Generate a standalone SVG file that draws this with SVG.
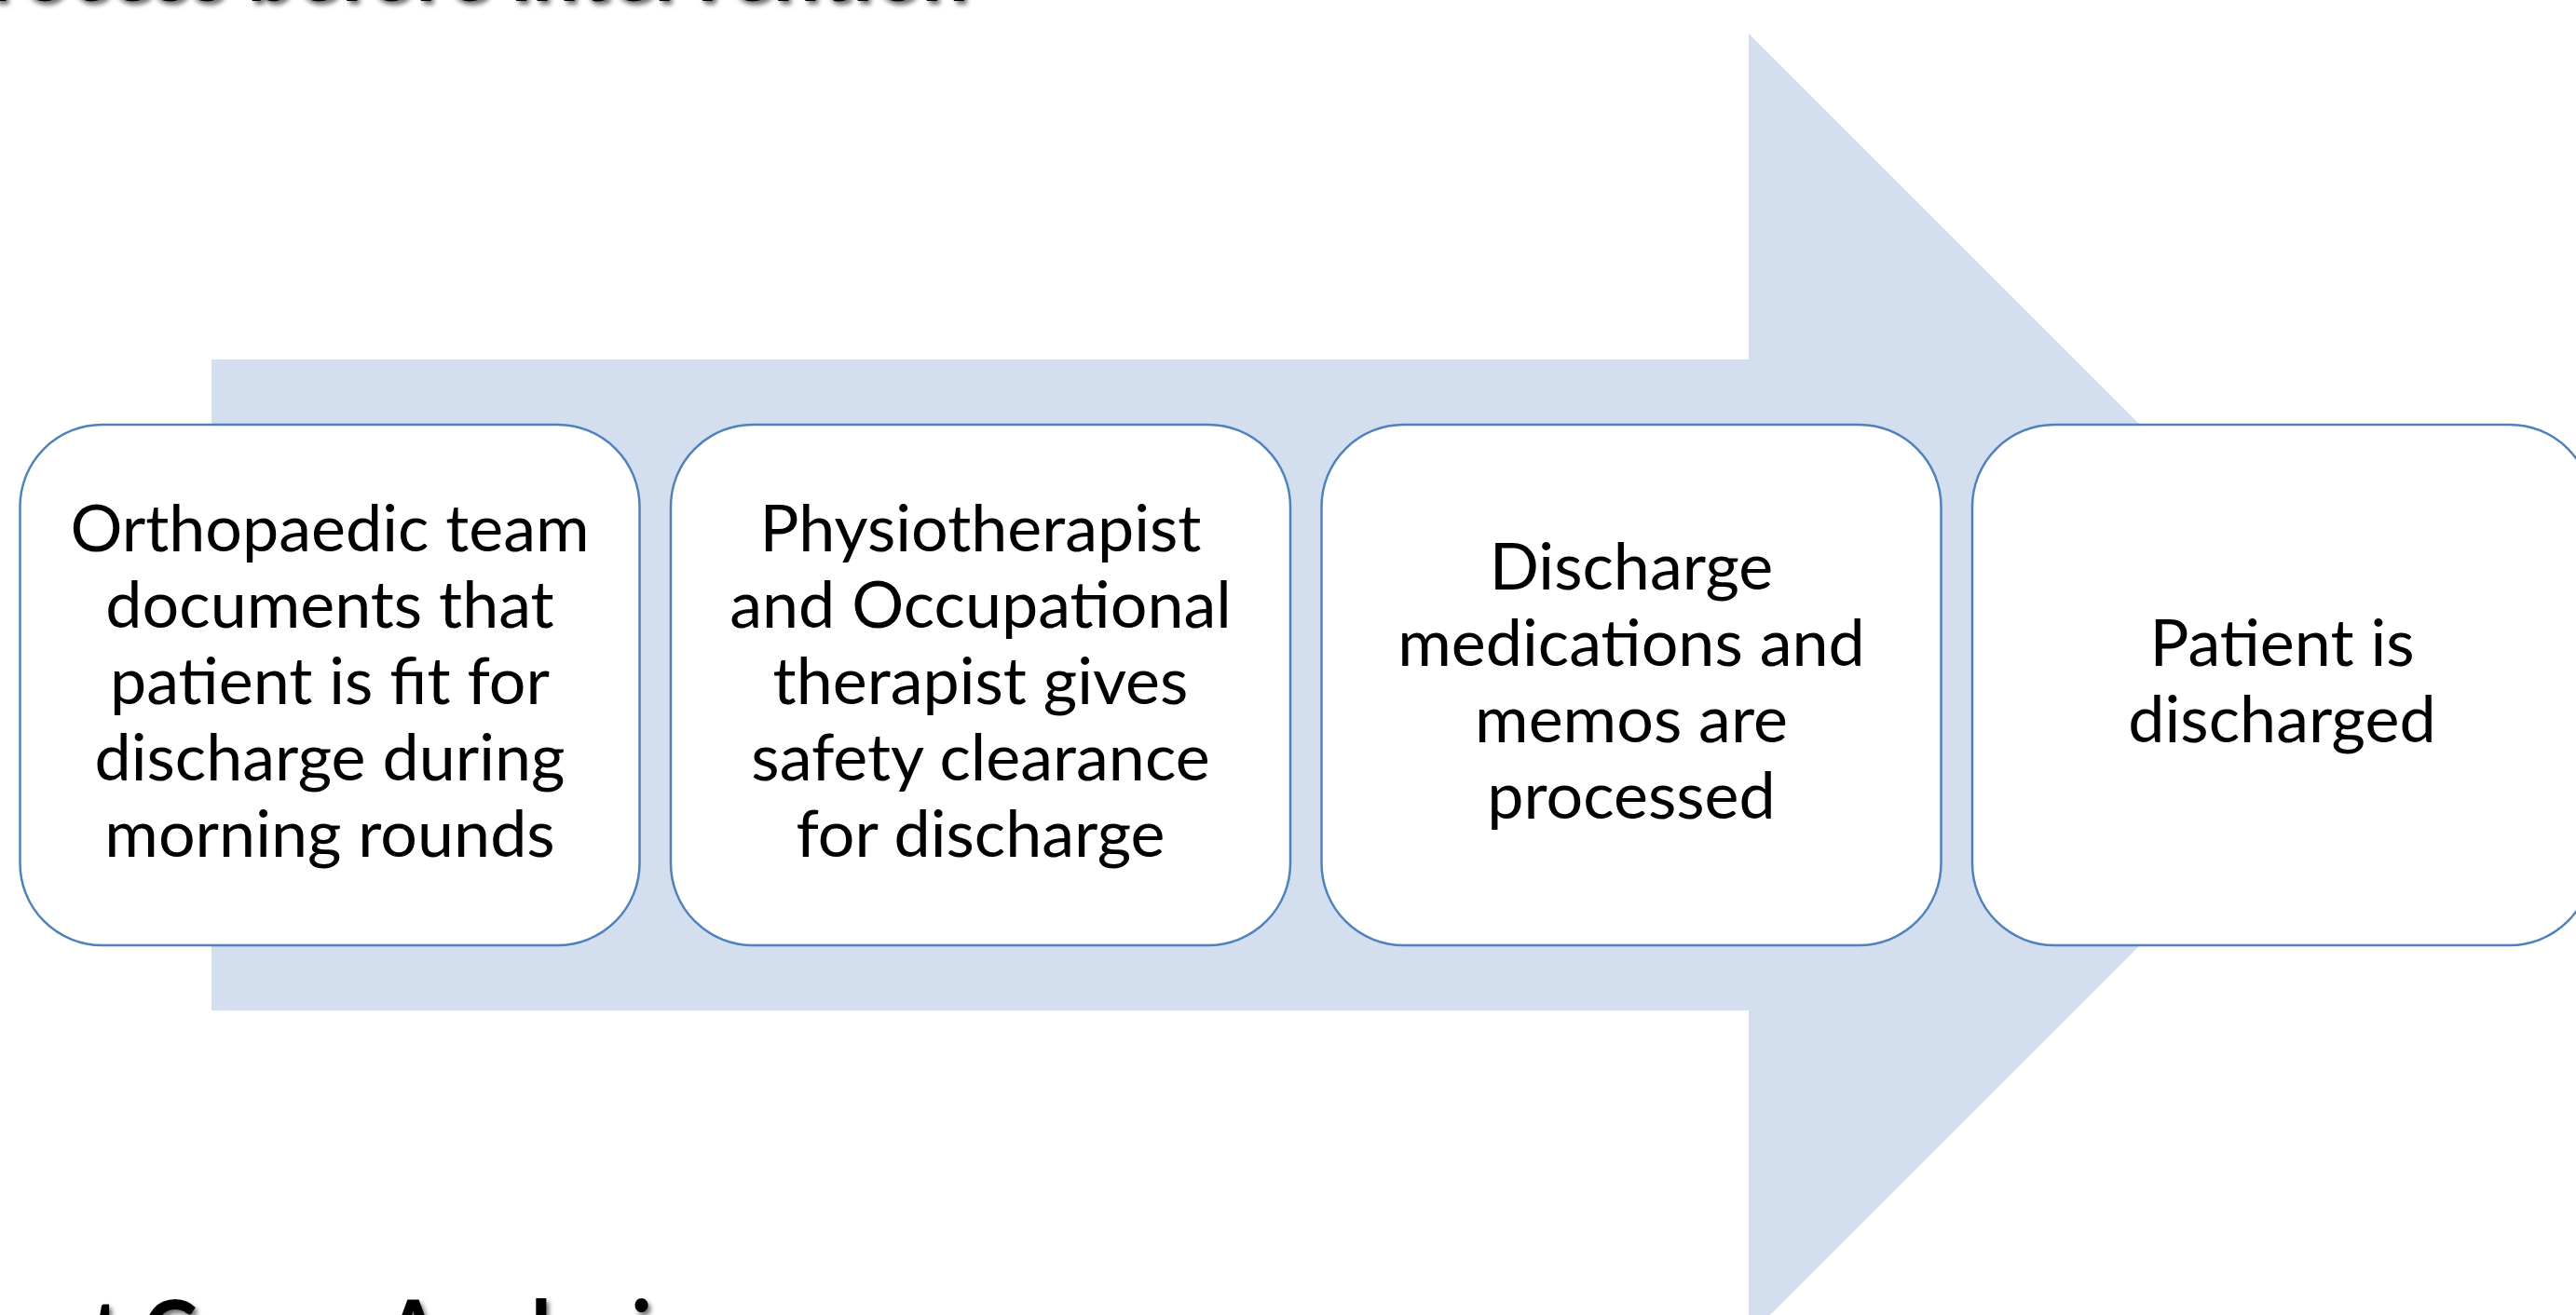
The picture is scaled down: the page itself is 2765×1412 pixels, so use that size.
<svg xmlns="http://www.w3.org/2000/svg" width="2765" height="1412" viewBox="0 0 2765 1412">
<style>
.box{fill:#ffffff;stroke:#4F81BD;stroke-width:2.5}
.lbl{font-family:Lato,"Liberation Sans",sans-serif;font-size:70px;fill:#000000;text-anchor:middle}
.ttl{font-family:Lato,"Liberation Sans",sans-serif;font-size:96px;font-weight:bold;fill:#000000}
</style>
<defs>
<filter id="sh" x="-5%" y="-50%" width="110%" height="200%">
<feDropShadow dx="3" dy="4" stdDeviation="2.5" flood-color="#000000" flood-opacity="0.55"/>
</filter>
</defs>
<rect width="2765" height="1412" fill="#ffffff"/>
<text class="ttl" x="-65" y="1" textLength="1105" lengthAdjust="spacingAndGlyphs" filter="url(#sh)">Process before intervention</text>
<g id="connectors">
<polygon points="227,386 1877,386 1877,36 2576.5,735.5 1877,1435 1877,1085 227,1085" fill="#D3DEEF"/>
</g>
<g id="node1">
<rect class="box" x="21.5" y="456" width="665" height="559" rx="88" ry="88"/>
<text class="lbl" x="354" y="592">Orthopaedic team</text>
<text class="lbl" x="354" y="674">documents that</text>
<text class="lbl" x="354" y="756">patient is fit for</text>
<text class="lbl" x="354" y="838">discharge during</text>
<text class="lbl" x="354" y="920">morning rounds</text>
</g>
<g id="node2">
<rect class="box" x="720" y="456" width="665" height="559" rx="88" ry="88"/>
<text class="lbl" x="1052.5" y="592">Physiotherapist</text>
<text class="lbl" x="1052.5" y="674">and Occupational</text>
<text class="lbl" x="1052.5" y="756">therapist gives</text>
<text class="lbl" x="1052.5" y="838">safety clearance</text>
<text class="lbl" x="1052.5" y="920">for discharge</text>
</g>
<g id="node3">
<rect class="box" x="1418.5" y="456" width="665" height="559" rx="88" ry="88"/>
<text class="lbl" x="1751" y="633">Discharge</text>
<text class="lbl" x="1751" y="715">medications and</text>
<text class="lbl" x="1751" y="797">memos are</text>
<text class="lbl" x="1751" y="879">processed</text>
</g>
<g id="node4">
<rect class="box" x="2117" y="456" width="665" height="559" rx="88" ry="88"/>
<text class="lbl" x="2449.5" y="715">Patient is</text>
<text class="lbl" x="2449.5" y="797">discharged</text>
</g>
<text class="ttl" x="-58" y="1465" textLength="797" lengthAdjust="spacingAndGlyphs" filter="url(#sh)">Root Cause Analysis</text>
</svg>
